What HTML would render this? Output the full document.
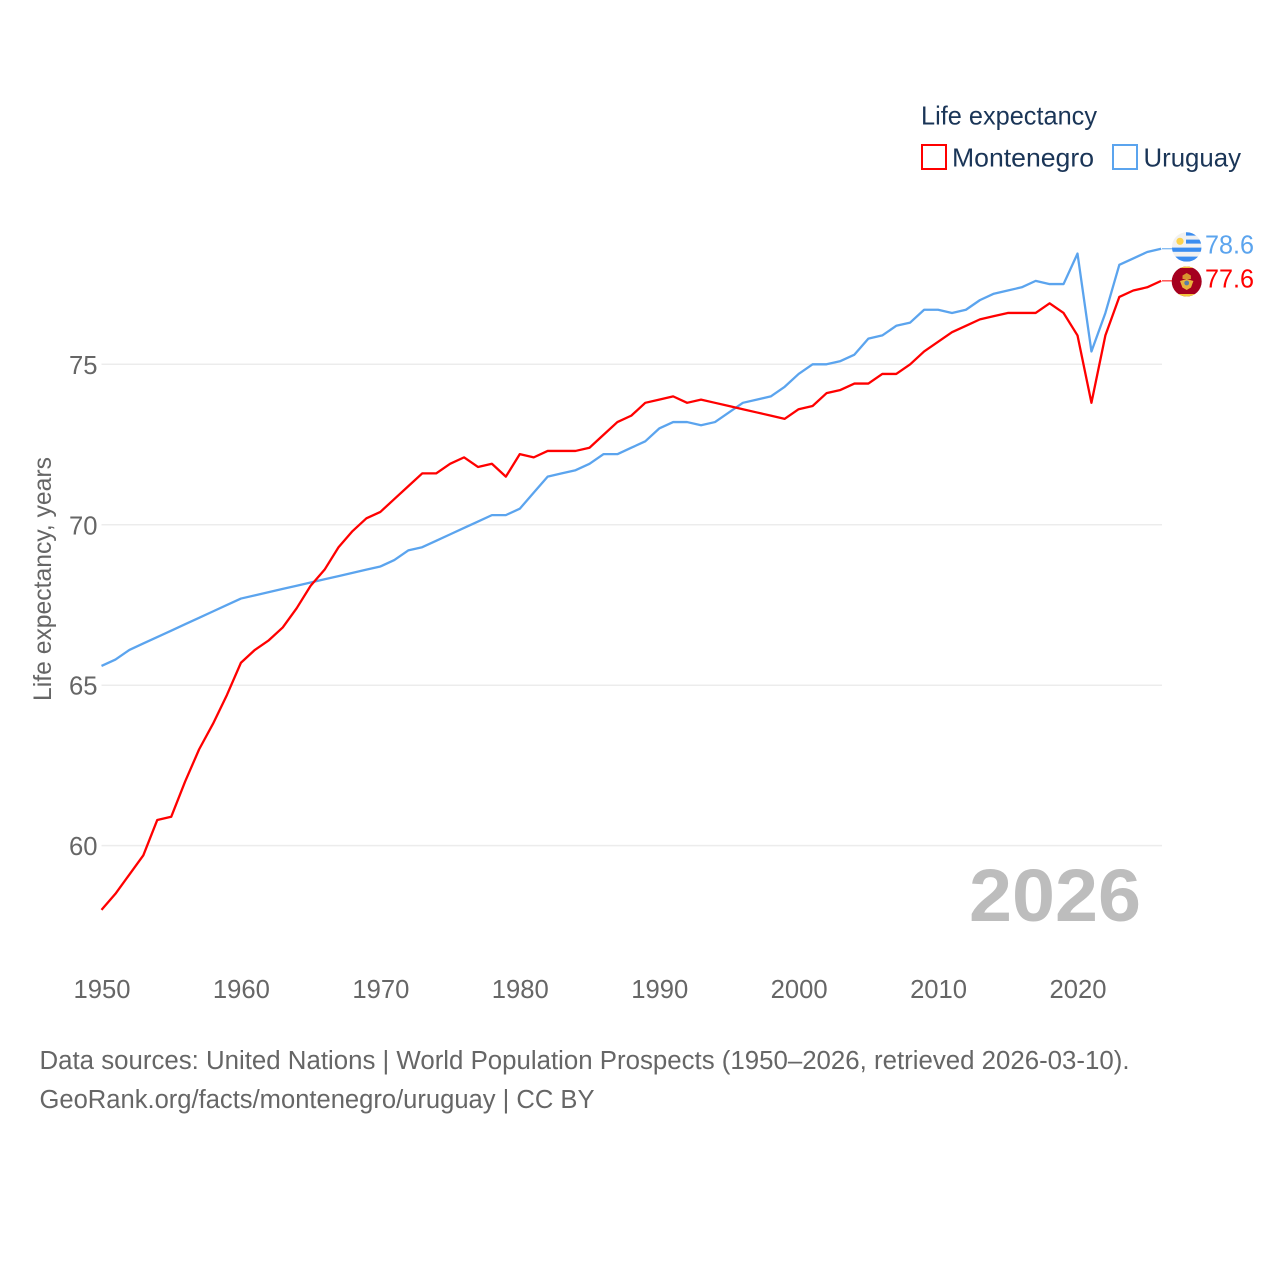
<!DOCTYPE html>
<html lang="en">
<head>
<meta charset="utf-8">
<title>Life expectancy: Montenegro and Uruguay</title>
<style>
html,body{margin:0;padding:0;background:#fff;width:1280px;height:1280px;overflow:hidden}
svg{display:block}
text{font-family:"Liberation Sans",sans-serif}
</style>
</head>
<body>
<svg id="chart" xmlns="http://www.w3.org/2000/svg" width="1280" height="1280" viewBox="0 0 1280 1280">
  <defs>
    <clipPath id="flag-clip-uy"><circle cx="1186.7" cy="247" r="14.8"/></clipPath>
    <clipPath id="flag-clip-me"><circle cx="1186.7" cy="281.5" r="15"/></clipPath>
  </defs>
  <g id="grid"></g>
  <g id="y-ticks"></g>
  <g id="x-ticks"></g>
  <text transform="translate(51,701) rotate(-90)" font-size="25" fill="#666" textLength="244" lengthAdjust="spacingAndGlyphs">Life expectancy, years</text>
  <text x="969" y="921" font-size="74" font-weight="700" fill="#bdbdbd" textLength="172" lengthAdjust="spacingAndGlyphs">2026</text>
  <g id="series"></g>

  <g>
    <text x="921" y="124.5" font-size="26" fill="#1a3557" textLength="176" lengthAdjust="spacingAndGlyphs">Life expectancy</text>
    <g>
      <rect x="922" y="145" width="24" height="24" fill="#fff" stroke="#ff0000" stroke-width="2"/>
      <text x="952" y="166.5" font-size="26" fill="#1a3557" textLength="142" lengthAdjust="spacingAndGlyphs">Montenegro</text>
    </g>
    <g>
      <rect x="1113" y="145" width="24" height="24" fill="#fff" stroke="#5ba4ee" stroke-width="2"/>
      <text x="1143.5" y="166.5" font-size="26" fill="#1a3557" textLength="97.5" lengthAdjust="spacingAndGlyphs">Uruguay</text>
    </g>
  </g>

  <g clip-path="url(#flag-clip-uy)">
    <rect x="1170" y="230" width="34" height="34" fill="#f1f1f1"/>
    <rect x="1186" y="232" width="16" height="3.6" fill="#3b8df0"/>
    <rect x="1186" y="239.6" width="16" height="4" fill="#3b8df0"/>
    <rect x="1170" y="247.6" width="34" height="4.2" fill="#3b8df0"/>
    <rect x="1170" y="256.6" width="34" height="5" fill="#3b8df0"/>
    <circle cx="1180" cy="241.3" r="3.6" fill="#fcd34d"/>
  </g>
  <g clip-path="url(#flag-clip-me)">
    <rect x="1170" y="264" width="34" height="35" fill="#a5001f"/>
    <rect x="1170" y="265" width="34" height="3" fill="#f2c53d"/>
    <rect x="1170" y="294" width="34" height="4" fill="#f2c53d"/>
    <path d="M1182.5 279 L1182.5 275.5 L1186.7 273 L1190.9 275.5 L1190.9 279 Z" fill="#d8942f"/>
    <path d="M1180 281 L1186.7 279 L1193.4 281 L1191 287.5 L1186.7 290 L1182.4 287.5 Z" fill="#e9b23c"/>
    <circle cx="1186.7" cy="283" r="2.4" fill="#5b7fa8"/>
  </g>
  <g id="end-labels"></g>

  <text x="39.5" y="1069" font-size="25.5" fill="#666" textLength="1090" lengthAdjust="spacingAndGlyphs">Data sources: United Nations | World Population Prospects (1950–2026, retrieved 2026-03-10).</text>
  <text x="39.5" y="1108" font-size="25.5" fill="#666" textLength="555" lengthAdjust="spacingAndGlyphs">GeoRank.org/facts/montenegro/uruguay | CC BY</text>
</svg>
<script>
const firstYear = 1950;
const xTickYears = [1950, 1960, 1970, 1980, 1990, 2000, 2010, 2020];
const yTickValues = [60, 65, 70, 75];
const montenegroValues = [
  58.0, 58.5, 59.1, 59.7, 60.8, 60.9, 62.0, 63.0, 63.8, 64.7,
  65.7, 66.1, 66.4, 66.8, 67.4, 68.1, 68.6, 69.3, 69.8, 70.2,
  70.4, 70.8, 71.2, 71.6, 71.6, 71.9, 72.1, 71.8, 71.9, 71.5,
  72.2, 72.1, 72.3, 72.3, 72.3, 72.4, 72.8, 73.2, 73.4, 73.8,
  73.9, 74.0, 73.8, 73.9, 73.8, 73.7, 73.6, 73.5, 73.4, 73.3,
  73.6, 73.7, 74.1, 74.2, 74.4, 74.4, 74.7, 74.7, 75.0, 75.4,
  75.7, 76.0, 76.2, 76.4, 76.5, 76.6, 76.6, 76.6, 76.9, 76.6,
  75.9, 73.8, 75.9, 77.1, 77.3, 77.4, 77.6
];
const uruguayValues = [
  65.6, 65.8, 66.1, 66.3, 66.5, 66.7, 66.9, 67.1, 67.3, 67.5,
  67.7, 67.8, 67.9, 68.0, 68.1, 68.2, 68.3, 68.4, 68.5, 68.6,
  68.7, 68.9, 69.2, 69.3, 69.5, 69.7, 69.9, 70.1, 70.3, 70.3,
  70.5, 71.0, 71.5, 71.6, 71.7, 71.9, 72.2, 72.2, 72.4, 72.6,
  73.0, 73.2, 73.2, 73.1, 73.2, 73.5, 73.8, 73.9, 74.0, 74.3,
  74.7, 75.0, 75.0, 75.1, 75.3, 75.8, 75.9, 76.2, 76.3, 76.7,
  76.7, 76.6, 76.7, 77.0, 77.2, 77.3, 77.4, 77.6, 77.5, 77.5,
  78.45, 75.4, 76.6, 78.1, 78.3, 78.5, 78.6
];

const NS = 'http://www.w3.org/2000/svg';
const RED = '#ff0000';
const BLUE = '#5ba4ee';
const plotLeft = 101.5;
const plotRight = 1162;

function xScale(year) {
  return 101.5 + (year - 1950) * (976 / 70);
}
function yScale(value) {
  return 364.3 + (75 - value) * 32.09;
}
function make(tag, attrs, parent, content) {
  const el = document.createElementNS(NS, tag);
  Object.keys(attrs).forEach(function (k) { el.setAttribute(k, attrs[k]); });
  if (content !== undefined) el.textContent = content;
  parent.appendChild(el);
  return el;
}

const gridGroup = document.getElementById('grid');
const yGroup = document.getElementById('y-ticks');
yTickValues.forEach(function (v) {
  const line = make('line', { x1: plotLeft, x2: plotRight, y1: yScale(v), y2: yScale(v), stroke: '#ececec', 'stroke-width': 1.5 }, gridGroup);
  
  
  const label = make('text', { x: 97.5, y: yScale(v) + 9.5, 'text-anchor': 'end', 'font-size': 26, fill: '#666', textLength: 28.5, lengthAdjust: 'spacingAndGlyphs' }, yGroup, String(v));
  
  
});

const xGroup = document.getElementById('x-ticks');
xTickYears.forEach(function (y) {
  const label = make('text', { x: xScale(y) + 0.5, y: 998, 'text-anchor': 'middle', 'font-size': 26, fill: '#666', textLength: 57, lengthAdjust: 'spacingAndGlyphs' }, xGroup, String(y));
  
  
});

function linePath(values) {
  return values.map(function (v, i) {
    return (i ? 'L' : 'M') + xScale(firstYear + i).toFixed(2) + ' ' + yScale(v).toFixed(2);
  }).join(' ');
}

const seriesGroup = document.getElementById('series');
const uruguayLine = make('path', { d: linePath(uruguayValues), fill: 'none', stroke: BLUE, 'stroke-width': 2.3, 'stroke-linejoin': 'round' }, seriesGroup);


const montenegroLine = make('path', { d: linePath(montenegroValues), fill: 'none', stroke: RED, 'stroke-width': 2.3, 'stroke-linejoin': 'round' }, seriesGroup);



const endGroup = document.getElementById('end-labels');
const lastUruguay = uruguayValues[uruguayValues.length - 1];
const lastMontenegro = montenegroValues[montenegroValues.length - 1];

const uruguayLeader = make('line', { x1: plotRight, x2: 1172, y1: yScale(lastUruguay), y2: yScale(lastUruguay), stroke: BLUE, 'stroke-width': 1 }, endGroup);


const montenegroLeader = make('line', { x1: plotRight, x2: 1172, y1: yScale(lastMontenegro), y2: yScale(lastMontenegro), stroke: RED, 'stroke-width': 1 }, endGroup);



const uruguayValueLabel = make('text', { x: 1205, y: 253.5, 'font-size': 26, fill: BLUE, textLength: 49, lengthAdjust: 'spacingAndGlyphs' }, endGroup, lastUruguay.toFixed(1));


const montenegroValueLabel = make('text', { x: 1205, y: 287.5, 'font-size': 26, fill: RED, textLength: 49, lengthAdjust: 'spacingAndGlyphs' }, endGroup, lastMontenegro.toFixed(1));


</script>
</body>
</html>
